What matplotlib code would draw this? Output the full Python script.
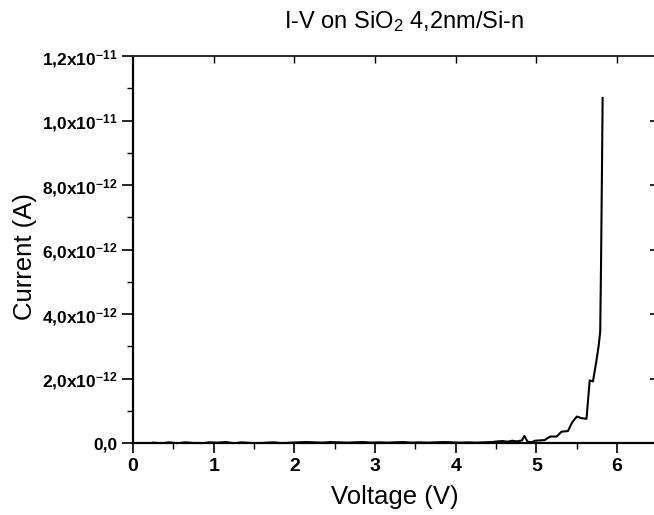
import matplotlib
matplotlib.use("Agg")
import matplotlib.pyplot as plt
from matplotlib.ticker import FuncFormatter, MultipleLocator

plt.rcParams["font.family"] = ["Liberation Sans", "DejaVu Sans"]
plt.rcParams["mathtext.default"] = "regular"

# données (courant en unités de 1e-12 A)
voltage_low = [0.25, 0.35, 0.45, 0.55, 0.65, 0.75, 0.85, 0.95, 1.05, 1.15,
               1.25, 1.35, 1.45, 1.55, 1.65, 1.75, 1.85, 1.95, 2.05, 2.15,
               2.25, 2.35, 2.45, 2.55, 2.65, 2.75, 2.85, 2.95, 3.05, 3.15,
               3.25, 3.35, 3.45, 3.55, 3.65, 3.75, 3.85, 3.95, 4.05, 4.15,
               4.25, 4.35, 4.45]
current_low = [0.01, -0.01, 0.02, -0.01, 0.02, 0.00, -0.01, 0.02, 0.01, 0.03,
               -0.01, 0.02, 0.00, -0.01, 0.01, 0.02, -0.01, 0.01, 0.02, 0.03,
               0.02, 0.01, 0.03, 0.02, 0.01, 0.02, 0.03, 0.01, 0.02, 0.01,
               0.02, 0.03, 0.01, 0.02, 0.01, 0.02, 0.03, 0.02, 0.01, 0.02,
               0.01, 0.02, 0.03]
voltage_high = [4.52, 4.58, 4.64, 4.70, 4.76, 4.82, 4.85, 4.89, 4.94, 4.98,
                5.04, 5.10, 5.17, 5.25, 5.31, 5.39, 5.44, 5.50, 5.56, 5.62,
                5.66, 5.70, 5.74, 5.77, 5.79, 5.80, 5.81, 5.82]
current_high = [0.05, 0.06, 0.04, 0.07, 0.05, 0.08, 0.22, 0.04, 0.02, 0.07,
                0.08, 0.09, 0.20, 0.20, 0.35, 0.37, 0.63, 0.82, 0.77, 0.75,
                1.94, 1.91, 2.50, 3.00, 3.45, 5.50, 8.00, 10.70]

voltage = voltage_low + voltage_high
current = [c * 1e-12 for c in current_low + current_high]

fig = plt.figure(figsize=(6.54, 5.15), dpi=100)
ax = fig.add_axes([133 / 654, 1 - 443 / 515, (657.5 - 133) / 654, (443 - 56) / 515])

ax.plot(voltage, current, color="black", lw=1.5)

ax.set_xlim(0, 6.5)
ax.set_ylim(0, 1.2e-11)
ax.xaxis.set_major_locator(MultipleLocator(1))
ax.xaxis.set_minor_locator(MultipleLocator(0.5))
ax.yaxis.set_major_locator(MultipleLocator(2e-12))
ax.yaxis.set_minor_locator(MultipleLocator(1e-12))


def y_label(val, pos):
    if abs(val) < 1e-20:
        return "0,0"
    exp = 0
    m = val
    while abs(m) < 1:
        m *= 10
        exp -= 1
    txt = f"{m:.1f}".replace(".", ",")
    return txt + "x10$^{" + str(exp) + "}$"


ax.yaxis.set_major_formatter(FuncFormatter(y_label))
ax.xaxis.set_major_formatter(FuncFormatter(lambda v, p: f"{v:.0f}"))

ax.tick_params(axis="x", which="major", direction="out", length=7, width=1.2, pad=4, labelsize=14)
ax.tick_params(axis="x", which="minor", direction="out", length=4, width=1.0)
ax.tick_params(axis="y", which="major", direction="out", length=8, width=1.2, pad=3, labelsize=12.5)
ax.tick_params(axis="y", which="minor", direction="out", length=4, width=1.0)
for lab in ax.get_xticklabels() + ax.get_yticklabels():
    lab.set_fontweight("bold")

# ticks miroirs en haut et à droite, vers l'intérieur
top = ax.secondary_xaxis("top")
top.set_xticks([1, 2, 3, 4, 5, 6])
top.tick_params(direction="in", length=5, width=1.0, labeltop=False)
top.spines["top"].set_linewidth(1.2)
right = ax.secondary_yaxis("right")
right.yaxis.set_major_locator(MultipleLocator(2e-12))
right.yaxis.set_minor_locator(MultipleLocator(1e-12))
right.tick_params(which="major", direction="in", length=6, width=1.2, labelright=False)
right.tick_params(which="minor", direction="in", length=3, width=1.0)

for side in ["left", "bottom"]:
    ax.spines[side].set_linewidth(1.6)
ax.spines["top"].set_linewidth(1.2)
ax.spines["top"].set_color("#333333")

ax.set_xlabel("Voltage (V)", fontsize=18.5)
ax.set_ylabel("Current (A)", fontsize=18.5)
ax.xaxis.set_label_coords((395 - 133) / 524.5, (443 - 485) / 387)
ax.yaxis.set_label_coords((37 - 133) / 524.5, (443 - 256) / 387)
fig.text(404 / 654, 1 - 22 / 515, "I-V on SiO$_2$ 4,2nm/Si-n", ha="center", va="center",
         fontsize=17)

fig.savefig("out.png", dpi=100)
